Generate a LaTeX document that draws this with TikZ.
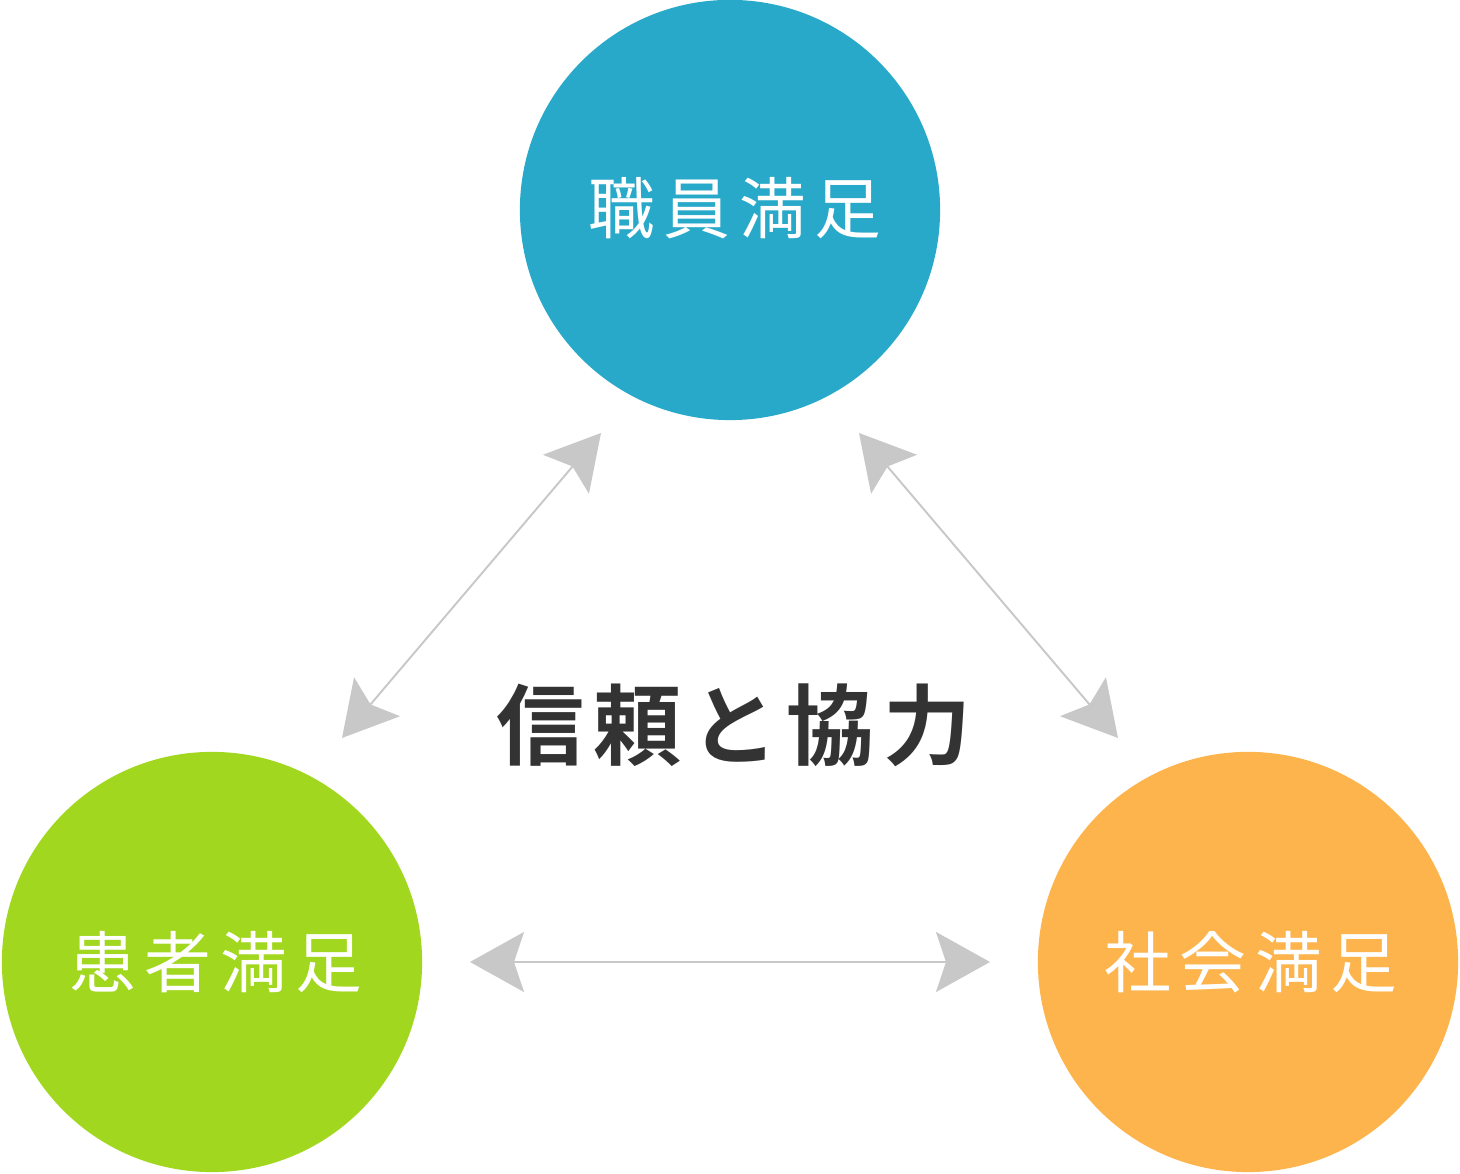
\documentclass[tikz,border=0pt]{standalone}
\usepackage{xcolor}
\usepackage{fontspec}
\usepackage{tikz}
\usetikzlibrary{arrows.meta}
\newfontfamily\jplabel[LetterSpace=13]{Noto Sans CJK JP}
\newfontfamily\jptitle[LetterSpace=10]{Noto Sans CJK JP Bold}
\definecolor{staffblue}{HTML}{29A9C9}
\definecolor{patientgreen}{HTML}{A2D71F}
\definecolor{socialorange}{HTML}{FDB44C}
\definecolor{linkgray}{HTML}{C8C8C8}
\definecolor{titlegray}{HTML}{333333}

\begin{document}
\begin{tikzpicture}[
  x=0.01cm, y=-0.01cm,
  party/.style={circle, minimum size=4.2cm, inner sep=0pt, draw=none},
  plabel/.style={font=\jplabel\fontsize{19pt}{21pt}\selectfont, text=white},
  link/.style={{Stealth[length=5.4mm, width=6mm, inset=1mm]}-{Stealth[length=5.4mm, width=6mm, inset=1mm]},
               draw=linkgray, fill=linkgray, line width=0.55pt},
]
\useasboundingbox (0,0) rectangle (1460,1174);

% Three satisfaction circles
\node[party, fill=staffblue]    (staff)   at (730, 210) {};
\node[party, fill=patientgreen] (patient) at (212, 962) {};
\node[party, fill=socialorange] (society) at (1248, 962) {};
\node[plabel] (stafftext)   at (735, 208) {職員満足};
\node[plabel] (patienttext) at (216, 962) {患者満足};
\node[plabel] (societytext) at (1251, 962) {社会満足};

% Centre title
\node[font=\jptitle\fontsize{25pt}{27pt}\selectfont, text=titlegray] (trust) at (734, 725) {信頼と協力};

% Arrow ends
\coordinate (tlA) at (601, 433);
\coordinate (tlB) at (342, 738);
\coordinate (trA) at (859, 433);
\coordinate (trB) at (1118, 738);
\coordinate (btA) at (470, 962);
\coordinate (btB) at (990, 962);

\draw[link] (tlA) -- (tlB);
\draw[link] (trA) -- (trB);
\draw[link] (btA) -- (btB);

\end{tikzpicture}
\end{document}
